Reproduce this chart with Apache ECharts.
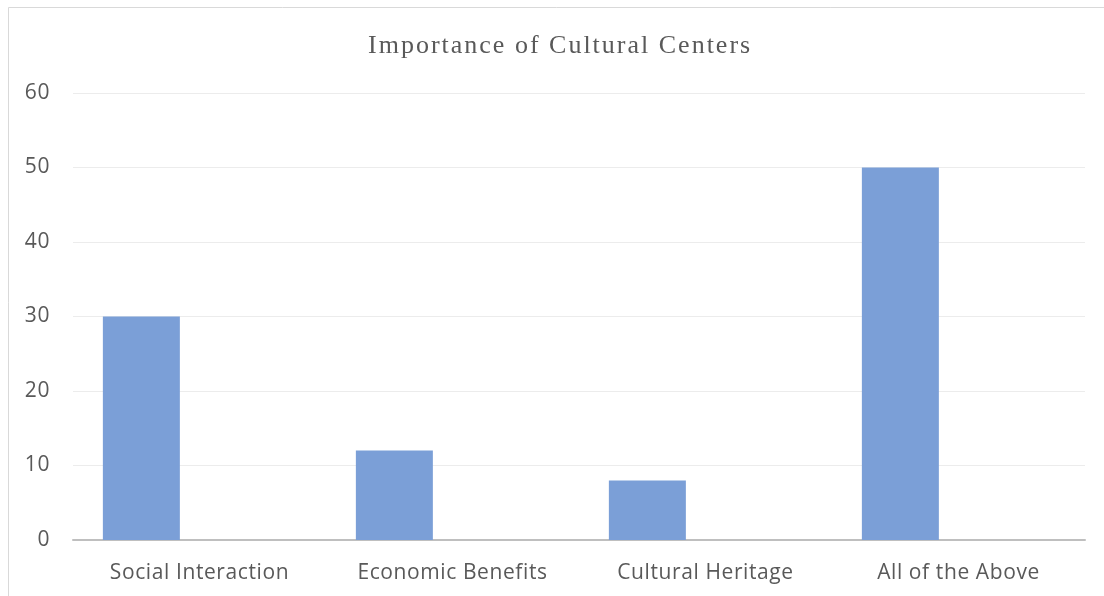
<!DOCTYPE html>
<html>
<head>
<meta charset="utf-8">
<script src="https://cdn.jsdelivr.net/npm/echarts@6/dist/echarts.min.js"></script>
<style>
  html, body { margin: 0; padding: 0; background: #ffffff; }
  #chart { width: 1104px; height: 596px; }
</style>
</head>
<body>
<div id="chart"></div>
<script>
// Chart data
const categories = ['Social Interaction', 'Economic Benefits', 'Cultural Heritage', 'All of the Above'];
const responses = [30, 12, 8, 50];
const secondSeries = [null, null, null, null]; // empty companion series (keeps bars left of centre)
const yTicks = [0, 10, 20, 30, 40, 50, 60];

// Tracking (letter spacing) per font family, applied when canvas text is drawn
const tracking = { 'Liberation Serif': '2px', 'Open Sans': '0.6px' };
(function () {
  const proto = CanvasRenderingContext2D.prototype;
  if (!('letterSpacing' in proto)) return;
  const fill = proto.fillText;
  proto.fillText = function (text, x, y, maxWidth) {
    const prev = this.letterSpacing;
    for (const fam in tracking) {
      if (this.font.indexOf(fam) !== -1) { this.letterSpacing = tracking[fam]; break; }
    }
    const r = maxWidth === undefined ? fill.call(this, text, x, y) : fill.call(this, text, x, y, maxWidth);
    this.letterSpacing = prev;
    return r;
  };
})();

const chart = echarts.init(document.getElementById('chart'), null, { renderer: 'canvas' });

chart.setOption({
  animation: false,
  backgroundColor: '#ffffff',
  title: {
    text: 'Importance of Cultural Centers',
    left: 363,
    top: 28,
    textStyle: {
      fontFamily: 'Liberation Serif',
      fontSize: 26,
      fontWeight: 'normal',
      color: '#595959'
    }
  },
  graphic: [{
    type: 'rect',
    shape: { x: 8.5, y: 7.5, width: 1200, height: 700 },
    style: { fill: 'none', stroke: '#d9d9d9', lineWidth: 1 },
    silent: true
  }],
  grid: { left: 73, right: 19, top: 93, bottom: 56, containLabel: false },
  xAxis: {
    type: 'category',
    data: categories,
    axisTick: { show: false },
    axisLine: { lineStyle: { color: '#bfbfbf', width: 2 } },
    axisLabel: {
      color: '#595959',
      fontFamily: 'Open Sans',
      fontSize: 21,
      margin: 23
    }
  },
  yAxis: {
    type: 'value',
    min: yTicks[0],
    max: yTicks[yTicks.length - 1],
    interval: 10,
    axisLine: { show: false },
    axisTick: { show: false },
    splitLine: { lineStyle: { color: '#ececec', width: 1 } },
    axisLabel: {
      color: '#595959',
      fontFamily: 'Open Sans',
      fontSize: 21,
      margin: 23
    }
  },
  series: [
    {
      name: 'Series 1',
      type: 'bar',
      data: responses,
      barWidth: 77,
      barGap: '51%',
      itemStyle: { color: '#7b9fd7' }
    },
    {
      name: 'Series 2',
      type: 'bar',
      data: secondSeries,
      barWidth: 77,
      itemStyle: { color: '#ed7d31' }
    }
  ]
});
</script>
</body>
</html>
